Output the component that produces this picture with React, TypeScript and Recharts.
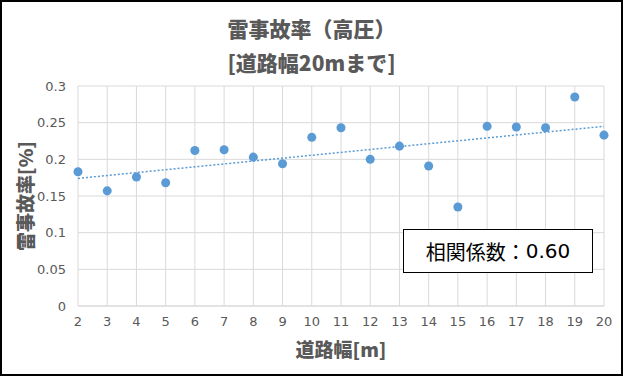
import { ScatterChart, Scatter, XAxis, YAxis, CartesianGrid, Label } from "recharts";

// 道路幅[m] と 雷事故率[%]
const widths = [2, 3, 4, 5, 6, 7, 8, 9, 10, 11, 12, 13, 14, 15, 16, 17, 18, 19, 20];
const rates = [0.183, 0.157, 0.176, 0.168, 0.212, 0.213, 0.203, 0.194, 0.230, 0.243, 0.200, 0.218, 0.191, 0.135, 0.245, 0.244, 0.243, 0.285, 0.233];

// 近似直線（線形）の両端
const trendX = [2, 20];
const trendY = [0.174, 0.245];

const xTicks = [2, 3, 4, 5, 6, 7, 8, 9, 10, 11, 12, 13, 14, 15, 16, 17, 18, 19, 20];
const yTicks = [0, 0.05, 0.1, 0.15, 0.2, 0.25, 0.3];

const points = widths.map((w, i) => ({ x: w, y: rates[i] }));
const trend = trendX.map((x, i) => ({ x, y: trendY[i] }));

const GRAY = "#595959";
const BLUE = "#5b9bd5";
const FONT = "'DejaVu Sans', 'Noto Sans CJK JP', sans-serif";
const JP = "'Noto Sans CJK JP', sans-serif";

export default function App() {
  return (
    <div
      style={{
        position: "fixed", left: 0, top: 0, width: 623, height: 376,
        background: "#fff", boxSizing: "border-box", border: "2px solid #000",
      }}
    >
      {/* タイトル */}
      <div style={{
        position: "absolute", left: 0, width: 619, top: 11, textAlign: "center",
        fontFamily: JP, fontWeight: 900, fontSize: 21, color: GRAY, lineHeight: "30px",
      }}>
        雷事故率（高圧）
      </div>
      <div style={{
        position: "absolute", left: 0, width: 619, top: 45, textAlign: "center",
        fontFamily: JP, fontWeight: 900, fontSize: 21, color: GRAY, lineHeight: "30px",
      }}>
        [道路幅20mまで]
      </div>

      <div style={{ position: "absolute", left: -2, top: -2 }}>
        <ScatterChart width={623} height={376} margin={{ top: 86, right: 19, bottom: 40, left: 38 }}>
          <CartesianGrid stroke="#d9d9d9" />
          <XAxis
            type="number"
            dataKey="x"
            domain={[2, 20]}
            ticks={xTicks}
            interval={0}
            height={30}
            axisLine={{ stroke: "#d9d9d9" }}
            tickLine={false}
            tick={{ fontSize: 13, fill: GRAY, fontFamily: FONT }}
            tickMargin={5}
          >
            <Label
              value="道路幅[m]"
              position="bottom"
              offset={8}
              style={{ fontSize: 19, fontWeight: 900, fill: GRAY, fontFamily: JP }}
            />
          </XAxis>
          <YAxis
            type="number"
            dataKey="y"
            domain={[0, 0.3]}
            ticks={yTicks}
            interval={0}
            width={40}
            axisLine={false}
            tickLine={false}
            tick={{ fontSize: 13, fill: GRAY, fontFamily: FONT }}
            tickMargin={6}
          >
            <Label
              value="雷事故率[%]"
              angle={-90}
              position="left"
              offset={12}
              style={{ fontSize: 19, fontWeight: 900, fill: GRAY, fontFamily: JP, textAnchor: "middle" }}
            />
          </YAxis>
          <Scatter
            data={trend}
            line={{ stroke: BLUE, strokeWidth: 1.5, strokeDasharray: "2 2" }}
            shape={() => null}
            isAnimationActive={false}
          />
          <Scatter data={points} fill={BLUE} shape="circle" isAnimationActive={false} />
        </ScatterChart>
      </div>

      {/* 相関係数 */}
      <div style={{
        position: "absolute", left: 401, top: 227, width: 190, height: 44,
        boxSizing: "border-box", border: "1px solid #000", background: "#fff",
        display: "flex", alignItems: "center", justifyContent: "center",
        fontFamily: JP, fontSize: 20, color: "#000",
      }}>
        相関係数：<span style={{ fontFamily: FONT }}>0.60</span>
      </div>
    </div>
  );
}
